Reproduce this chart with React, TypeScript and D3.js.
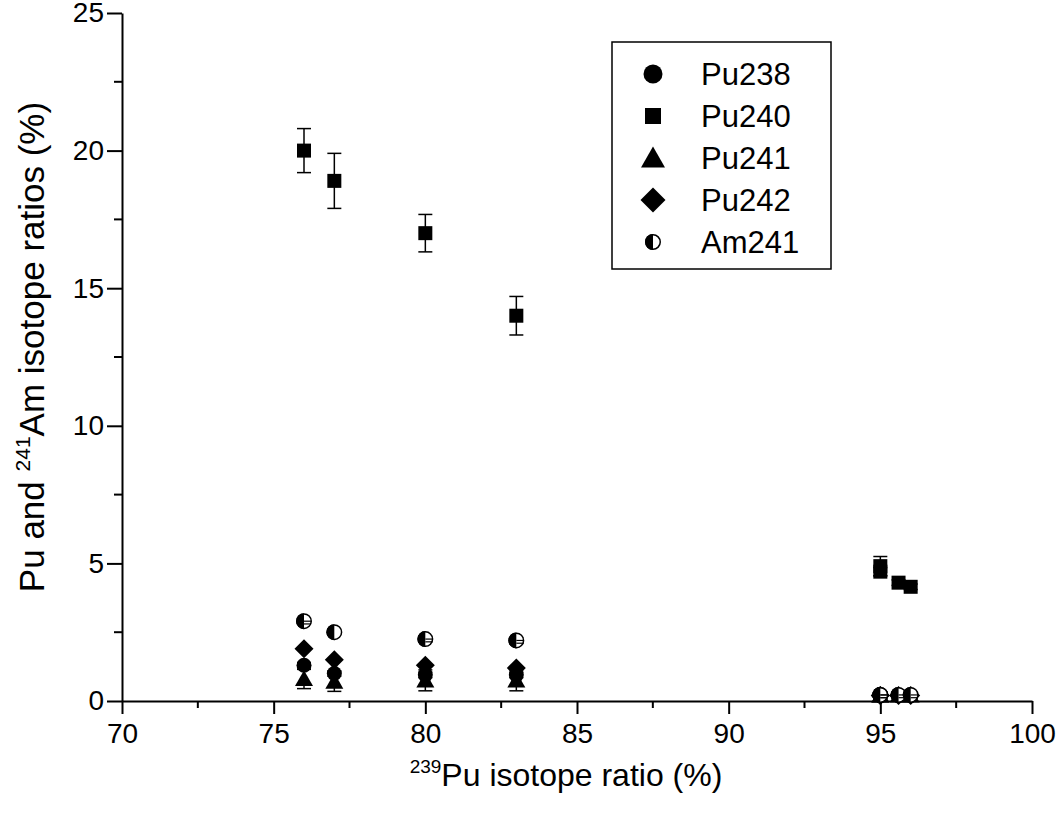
import * as d3 from "d3";
import React, { useEffect, useRef } from "react";

// 239Pu ratio of each sample (x)
const pu239 = [76, 77, 80, 83, 95, 95, 95.6, 96];

// series values (%)
const pu238 = [1.3, 1.0, 0.95, 0.95, 0.2, 0.2, 0.2, 0.2];
const pu238Err = [0.1, 0.1, 0.1, 0.1, 0, 0, 0, 0];
const pu240 = [20.0, 18.9, 17.0, 14.0, 4.9, 4.7, 4.3, 4.15];
const pu240Err = [0.8, 1.0, 0.68, 0.7, 0.35, 0.15, 0.1, 0.1];
const pu241 = [0.8, 0.7, 0.75, 0.75, 0.2, 0.2, 0.2, 0.2];
const pu241Err = [0.35, 0.35, 0.38, 0.38, 0, 0, 0, 0];
const pu242 = [1.9, 1.5, 1.3, 1.2, 0.2, 0.2, 0.2, 0.2];
const am241 = [2.9, 2.5, 2.25, 2.2, 0.22, 0.22, 0.22, 0.22];
const am241Err = [0.1, 0.0, 0.1, 0.1, 0.1, 0.1, 0.1, 0.1];

const seriesNames = ["Pu238", "Pu240", "Pu241", "Pu242", "Am241"];
const seriesShapes = ["circle", "square", "triangle", "diamond", "half"];
const seriesValues = [pu238, pu240, pu241, pu242, am241];
const seriesErrors = [pu238Err, pu240Err, pu241Err, [], am241Err];

const xTicks = [70, 75, 80, 85, 90, 95, 100];
const yTicks = [0, 5, 10, 15, 20, 25];

const FONT = "'Liberation Sans', Arial, Helvetica, sans-serif";

const App: React.FC = () => {
  const ref = useRef<SVGSVGElement>(null);

  useEffect(() => {
    if (!ref.current) return;
    const svg = d3.select(ref.current);
    svg.selectAll("*").remove();

    const x = d3.scaleLinear().domain([70, 100]).range([122, 1032]);
    const y = d3.scaleLinear().domain([0, 25]).range([701, 13]);

    // draws one marker shape centred on (cx, cy)
    const marker = (g: any, shape: string, cx: number, cy: number, s: number) => {
      if (shape === "circle") {
        g.append("circle").attr("cx", cx).attr("cy", cy).attr("r", s / 2).attr("fill", "#000");
      } else if (shape === "square") {
        g.append("rect")
          .attr("x", cx - s / 2)
          .attr("y", cy - s / 2)
          .attr("width", s)
          .attr("height", s)
          .attr("fill", "#000");
      } else if (shape === "triangle") {
        const h = s * 0.87;
        g.append("path")
          .attr("d", `M${cx},${cy - h * 0.55}L${cx + s / 2},${cy + h * 0.45}L${cx - s / 2},${cy + h * 0.45}Z`)
          .attr("fill", "#000");
      } else if (shape === "diamond") {
        const r = s / 2;
        g.append("path")
          .attr("d", `M${cx},${cy - r}L${cx + r},${cy}L${cx},${cy + r}L${cx - r},${cy}Z`)
          .attr("fill", "#000");
      } else {
        const r = s / 2;
        g.append("circle")
          .attr("cx", cx)
          .attr("cy", cy)
          .attr("r", r - 0.75)
          .attr("fill", "#fff")
          .attr("stroke", "#000")
          .attr("stroke-width", 1.5);
        g.append("path")
          .attr("d", `M${cx},${cy - r}A${r},${r} 0 0 0 ${cx},${cy + r}Z`)
          .attr("fill", "#000");
      }
    };

    const plotSizes: Record<string, number> = {
      circle: 15,
      square: 14,
      triangle: 18,
      diamond: 19,
      half: 16,
    };

    // axes
    const xAxis = svg
      .append("g")
      .attr("transform", `translate(0,${y(0)})`)
      .call(d3.axisBottom(x).tickValues(xTicks).tickSize(13).tickSizeOuter(0).tickPadding(9));
    xAxis.select(".domain").attr("stroke-width", 2);
    xAxis.selectAll(".tick line").attr("stroke-width", 2);
    xAxis.selectAll("text").style("font-size", "28px").style("font-family", FONT).attr("fill", "#000");

    const yAxis = svg
      .append("g")
      .attr("transform", `translate(${x(70)},0)`)
      .call(d3.axisLeft(y).tickValues(yTicks).tickSize(15).tickSizeOuter(0).tickPadding(3));
    yAxis.select(".domain").attr("stroke-width", 2);
    yAxis.selectAll(".tick line").attr("stroke-width", 2);
    yAxis.selectAll("text").style("font-size", "28px").style("font-family", FONT).attr("fill", "#000");

    // minor ticks
    const xMinor = d3.range(72.5, 100, 5);
    svg
      .append("g")
      .selectAll("line")
      .data(xMinor)
      .enter()
      .append("line")
      .attr("x1", (d) => x(d))
      .attr("x2", (d) => x(d))
      .attr("y1", y(0))
      .attr("y2", y(0) + 7)
      .attr("stroke", "#000")
      .attr("stroke-width", 2);
    const yMinor = d3.range(2.5, 25, 5);
    svg
      .append("g")
      .selectAll("line")
      .data(yMinor)
      .enter()
      .append("line")
      .attr("x1", x(70) - 8)
      .attr("x2", x(70))
      .attr("y1", (d) => y(d))
      .attr("y2", (d) => y(d))
      .attr("stroke", "#000")
      .attr("stroke-width", 2);

    // data: error bars then markers, series in order
    seriesValues.forEach((vals, si) => {
      const g = svg.append("g");
      const errs = seriesErrors[si];
      vals.forEach((v, i) => {
        const e = errs[i] || 0;
        if (e > 0) {
          const cx = x(pu239[i]);
          const eg = g.append("g").attr("stroke", "#000").attr("stroke-width", 1.5);
          eg.append("line").attr("x1", cx).attr("x2", cx).attr("y1", y(v + e)).attr("y2", y(v - e));
          eg.append("line").attr("x1", cx - 7).attr("x2", cx + 7).attr("y1", y(v + e)).attr("y2", y(v + e));
          eg.append("line").attr("x1", cx - 7).attr("x2", cx + 7).attr("y1", y(v - e)).attr("y2", y(v - e));
        }
      });
      vals.forEach((v, i) => {
        marker(g, seriesShapes[si], x(pu239[i]), y(v), plotSizes[seriesShapes[si]]);
      });
      // caps of Am241 show through the white half
      if (seriesShapes[si] === "half") {
        vals.forEach((v, i) => {
          const e = errs[i] || 0;
          if (e <= 0) return;
          const cx = x(pu239[i]);
          g.append("line").attr("x1", cx).attr("x2", cx + 7).attr("y1", y(v - e)).attr("y2", y(v - e)).attr("stroke", "#000").attr("stroke-width", 1.2);
          g.append("line").attr("x1", cx).attr("x2", cx + 7).attr("y1", y(v)).attr("y2", y(v)).attr("stroke", "#000").attr("stroke-width", 1.2);
        });
      }
    });

    // legend
    const lg = svg.append("g");
    lg.append("rect")
      .attr("x", 612)
      .attr("y", 42)
      .attr("width", 219)
      .attr("height", 227)
      .attr("fill", "#fff")
      .attr("stroke", "#000")
      .attr("stroke-width", 1.5);
    const legendSizes: Record<string, number> = {
      circle: 19,
      square: 16,
      triangle: 24,
      diamond: 25,
      half: 16,
    };
    seriesNames.forEach((name, i) => {
      const cy = 74 + i * 42;
      marker(lg, seriesShapes[i], 653, cy, legendSizes[seriesShapes[i]]);
      lg.append("text")
        .attr("x", 701)
        .attr("y", cy)
        .attr("dy", "0.36em")
        .style("font-size", "31px")
        .style("font-family", FONT)
        .text(name);
    });

    // axis titles
    const xt = svg
      .append("text")
      .attr("x", 566)
      .attr("y", 786)
      .attr("text-anchor", "middle")
      .style("font-size", "32px")
      .style("font-family", FONT);
    xt.append("tspan").attr("dy", "-13").style("font-size", "19px").text("239");
    xt.append("tspan").attr("dy", "13").text("Pu isotope ratio (%)");

    const yt = svg
      .append("text")
      .attr("transform", "translate(44,347) rotate(-90)")
      .attr("text-anchor", "middle")
      .style("font-size", "35px")
      .style("font-family", FONT);
    yt.append("tspan").text("Pu and ");
    yt.append("tspan").attr("dy", "-14").style("font-size", "21px").text("241");
    yt.append("tspan").attr("dy", "14").text("Am isotope ratios (%)");
  }, []);

  return (
    <svg
      ref={ref}
      width={1060}
      height={822}
      style={{ position: "absolute", left: 0, top: 0, background: "#fff" }}
    />
  );
};

export default App;
